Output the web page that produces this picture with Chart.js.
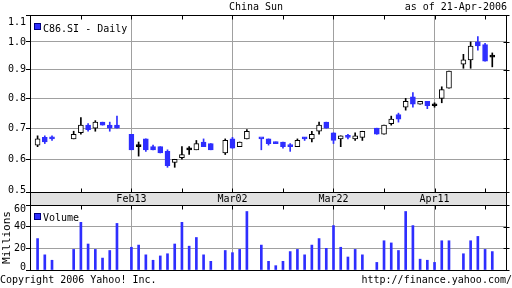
<!DOCTYPE html>
<html><head><meta charset="utf-8">
<script src="https://cdn.jsdelivr.net/npm/chart.js@4/dist/chart.umd.min.js"></script>
<style>
html,body{margin:0;padding:0;background:#fff;}
#wrap{position:relative;width:512px;height:288px;overflow:hidden;font-family:"DejaVu Sans Mono",monospace;font-size:10px;color:#000;}
canvas{position:absolute;left:0;}
#cp{top:0;width:512px;height:205px;}
#cv{top:195px;width:512px;height:93px;}
.t{position:absolute;white-space:pre;line-height:12px;}
.sq{position:absolute;width:5px;height:5px;background:#2e2eff;border:1px solid #000080;}
</style></head><body>
<div id="wrap">
<canvas id="cp" width="512" height="205"></canvas>
<canvas id="cv" width="512" height="93"></canvas>
<div class="t" style="left:0;width:512px;text-align:center;top:1px">China Sun</div>
<div class="t" style="right:5px;top:1px">as of 21-Apr-2006</div>
<div class="sq" style="left:34px;top:23px"></div>
<div class="t" style="left:43px;top:23px">C86.SI - Daily</div>
<div class="sq" style="left:34px;top:213px"></div>
<div class="t" style="left:43px;top:212px">Volume</div>
<div class="t" style="left:0;top:274px">Copyright 2006 Yahoo! Inc.</div>
<div class="t" style="right:0;top:274px">http://finance.yahoo.com/</div>
</div>
<script>
// ---------- data (one slot per weekday, null = no trade) ----------
const opens  = [0.645,0.67,0.667,null,null,0.665,0.685,0.71,0.70,0.72,0.71,0.71,null,0.68,0.64,0.665,0.64,0.64,0.625,0.59,0.605,0.63,0.63,0.655,0.65,null,0.62,0.665,0.64,0.665,null,0.667,0.665,0.655,0.655,0.642,0.64,0.667,0.665,0.69,0.72,0.685,0.665,0.672,0.665,0.67,null,0.70,0.68,0.715,0.745,0.77,0.805,0.78,0.79,0.775,0.80,0.835,null,0.92,0.935,1.00,0.99,0.945];
const highs  = [0.675,0.675,0.675,null,null,0.69,0.735,0.715,0.725,0.72,0.72,0.74,null,0.68,0.655,0.665,0.645,0.64,0.63,0.60,0.64,0.64,0.66,0.665,0.65,null,0.665,0.67,0.655,0.695,null,0.667,0.665,0.655,0.655,0.65,0.665,0.67,0.69,0.72,0.72,0.685,0.675,0.68,0.685,0.69,null,0.70,0.71,0.74,0.75,0.80,0.82,0.79,0.79,0.785,0.84,0.895,null,0.955,1.00,1.02,0.995,0.96];
const lows   = [0.64,0.65,0.66,null,null,0.665,0.68,0.69,0.69,0.71,0.69,0.70,null,0.63,0.61,0.625,0.63,0.62,0.575,0.575,0.60,0.615,0.63,0.64,0.63,null,0.615,0.635,0.64,0.665,null,0.63,0.645,0.65,0.635,0.625,0.64,0.66,0.655,0.68,0.70,0.65,0.64,0.665,0.66,0.66,null,0.68,0.68,0.71,0.72,0.76,0.77,0.78,0.765,0.77,0.785,0.835,null,0.905,0.905,0.97,0.93,0.91];
const closes = [0.665,0.655,0.665,null,null,0.68,0.71,0.695,0.72,0.71,0.70,0.70,null,0.63,0.64,0.63,0.63,0.62,0.58,0.60,0.615,0.63,0.65,0.64,0.63,null,0.66,0.635,0.655,0.69,null,0.665,0.65,0.65,0.64,0.64,0.66,0.665,0.68,0.71,0.70,0.66,0.675,0.67,0.675,0.69,null,0.68,0.71,0.73,0.73,0.79,0.78,0.79,0.775,0.775,0.83,0.895,null,0.935,0.985,0.985,0.93,0.945];
const volumes = [29,14,9,null,null,19,44,24,19,11,18,43,null,21,23,14,9,13,15,24,44,22,30,14,8,null,18,16,19,54,null,23,8,4,8,17,19,14,23,29,20,41,21,12,19,14,null,7,27,25,18,54,41,10,9,7,27,27,null,15,27,31,19,17];
const majorSlots  = [13,27,41,55];
const majorLabels = ['Feb13','Mar02','Mar22','Apr11'];
const minorSlots  = [6,20,34,48,62];
const priceTicks  = [0.5,0.6,0.7,0.8,0.9,1.0,1.1];
const volumeTicks = [0,20,40,60];

// ---------- styles ----------
const FONT = '"DejaVu Sans Mono", monospace';
const BLUE = '#2e2eff';
const GRID = '#a0a0a0';
const POW_K = 0.7;
Chart.defaults.font.family = FONT;
Chart.defaults.font.size = 10;
Chart.defaults.color = '#000';

class PowScale extends Chart.LinearScale {
  static id = 'pow';
  static defaults = {};
  _f(v){ return Math.pow(v, POW_K); }
  getPixelForValue(v){ const a=this._f(this.min), b=this._f(this.max); return this.getPixelForDecimal((this._f(v)-a)/(b-a)); }
  getValueForPixel(p){ const a=this._f(this.min), b=this._f(this.max); return Math.pow(a+this.getDecimalForPixel(p)*(b-a), 1/POW_K); }
}
Chart.register(PowScale);

const allSlots = majorSlots.concat(minorSlots).sort((a,b)=>a-b);
const kind = i => closes[i] > opens[i] ? 'up' : (closes[i] < opens[i] ? 'down' : 'flat');

const bodies=[], wicks=[], vols=[];
opens.forEach((o,i)=>{
  if (o == null) return;
  bodies.push({x:i, y:[o, closes[i]]});
  wicks.push({x:i, y:[lows[i], highs[i]]});
  vols.push({x:i, y:volumes[i]});
});

const framePlugin = {
  id:'frame',
  beforeDraw(chart, args, o){
    if (!o.band) return;
    const {ctx, chartArea:{left,right,bottom}} = chart;
    ctx.save(); ctx.fillStyle='#e1e1e1';
    ctx.fillRect(left, bottom, right-left, chart.height-bottom);
    ctx.restore();
  },
  afterDraw(chart, args, o){
    const {ctx, chartArea:{left,top,right,bottom}} = chart;
    const L=Math.round(left)+0.5, R=Math.round(right)+0.5, T=Math.round(top)+0.5, B=Math.round(bottom)+0.5;
    ctx.save(); ctx.strokeStyle='#000'; ctx.lineWidth=1;
    ctx.strokeRect(L, T, R-L, B-T);
    ctx.beginPath();
    if (o.band){ ctx.moveTo(L,B); ctx.lineTo(L,chart.height); ctx.moveTo(R,B); ctx.lineTo(R,chart.height); }
    const xs = chart.scales.x;
    allSlots.forEach(v=>{
      const px = Math.round(xs.getPixelForValue(v))+0.5;
      ctx.moveTo(px, T); ctx.lineTo(px, T+4);
      if (o.bottomTicks){ ctx.moveTo(px, B); ctx.lineTo(px, B-4); }
    });
    const ys = chart.scales.y;
    (ys.ticks || []).forEach(t=>{
      const py = Math.round(ys.getPixelForValue(t.value))+0.5;
      ctx.moveTo(R-3, py); ctx.lineTo(R+3, py);
    });
    ctx.stroke();
    ctx.restore();
  }
};

function xScale(withLabels, h){
  return {
    type:'linear', min:-1.05, max:64.9, position:'bottom', offset:false,
    afterBuildTicks: s => { s.ticks = allSlots.map(v=>({value:v})); },
    afterFit: s => { s.height = h; },
    grid:{ offset:false, color: c => (c && c.tick && majorSlots.includes(c.tick.value)) ? GRID : 'rgba(0,0,0,0)', drawTicks:false, lineWidth:1 },
    border:{display:false},
    ticks:{ display: withLabels, autoSkip:false, maxRotation:0, padding:1,
      callback: v => { const k = majorSlots.indexOf(v); return k >= 0 ? majorLabels[k] : ''; } }
  };
}
function gridY(type, min, max, ticks){
  return {
    type, min, max, position:'left', weight:0,
    afterBuildTicks: s => { s.ticks = ticks.map(v=>({value:v})); },
    afterFit: s => { s.width = 4; },
    grid:{ color: GRID, tickColor:'#000', tickLength:4, drawTicks:true, lineWidth:1 },
    border:{display:false},
    ticks:{ display:false, padding:0 }
  };
}
function labelY(type, min, max, ticks, fmt, topShift, botShift, title){
  const last = ticks.length - 1;
  return {
    type, min, max, position:'left', weight:1,
    afterBuildTicks: s => { s.ticks = ticks.map(v=>({value:v})); },
    afterFit: s => { s.width = 26; },
    grid:{ display:false, drawTicks:false },
    border:{display:false},
    title: title ? { display:true, text:title, font:{family:FONT, size:11}, padding:{top:1,bottom:0} } : {display:false},
    ticks:{ padding:0, autoSkip:false,
      font: c => {
        const i = (c && typeof c.index === 'number') ? c.index : -1;
        const lh = i===0 ? botShift*2 : (i===last ? topShift*2 : 12);
        return {family:FONT, size:10, lineHeight: lh+'px'};
      },
      callback: (v,i) => { const s = fmt(v); return i===0 ? [s,''] : (i===last ? ['',s] : s); } }
  };
}

new Chart(document.getElementById('cp'), {
  type:'bar',
  data:{ datasets:[
    { data: bodies, grouped:false, barThickness:5, minBarLength:2, borderWidth:1, borderSkipped:false,
      backgroundColor: c => { const k = kind(c.raw ? c.raw.x : 0); return k==='up' ? '#fff' : (k==='down' ? BLUE : '#000'); },
      borderColor: c => kind(c.raw ? c.raw.x : 0)==='down' ? BLUE : '#000' },
    { data: wicks, grouped:false, barThickness:1, borderWidth:0,
      backgroundColor: c => kind(c.raw ? c.raw.x : 0)==='down' ? BLUE : '#000' }
  ]},
  options:{
    responsive:false, animation:false,
    layout:{ padding:{ top:15, right:6, left:0, bottom:0 } },
    plugins:{ legend:{display:false}, tooltip:{enabled:false}, frame:{ band:true, bottomTicks:true } },
    scales:{
      x: xScale(true, 13),
      y: gridY('pow', 0.5, 1.1, priceTicks),
      yl: labelY('pow', 0.5, 1.1, priceTicks, v=>v.toFixed(1), 7.3, 1.7, null)
    }
  },
  plugins:[framePlugin]
});

new Chart(document.getElementById('cv'), {
  type:'bar',
  data:{ datasets:[
    { data: vols, grouped:false, barThickness:2, borderWidth:0, backgroundColor: BLUE }
  ]},
  options:{
    responsive:false, animation:false,
    layout:{ padding:{ top:10, right:6, left:0, bottom:0 } },
    plugins:{ legend:{display:false}, tooltip:{enabled:false}, frame:{ band:false, bottomTicks:false } },
    scales:{
      x: xScale(false, 18),
      y: gridY('linear', 0, 60, volumeTicks),
      yl: labelY('linear', 0, 60, volumeTicks, v=>String(v), 4.3, 2.4, 'Millions')
    }
  },
  plugins:[framePlugin]
});
</script>
</body></html>
